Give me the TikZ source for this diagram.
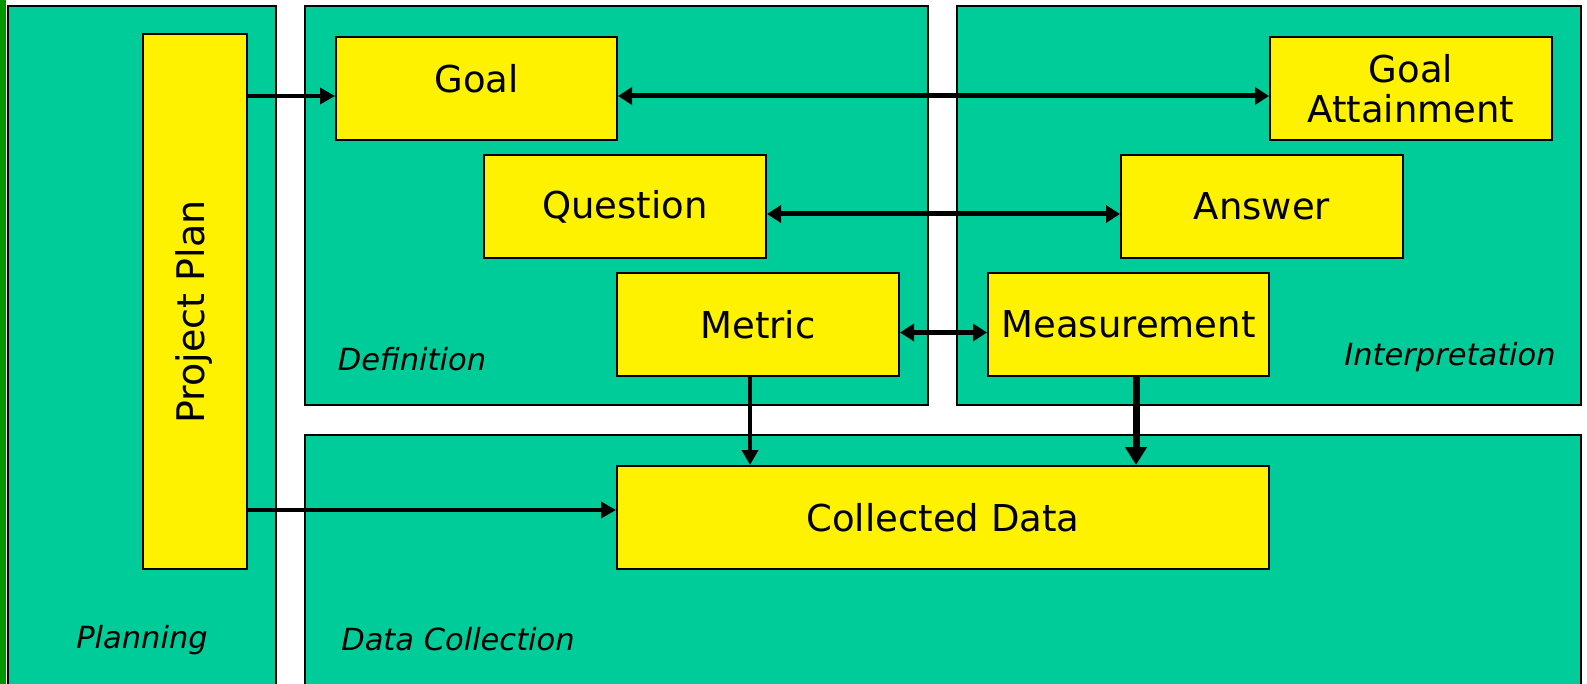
\documentclass[tikz,border=0pt]{standalone}
\usepackage{fontspec}
\setmainfont{DejaVu Sans}
\usetikzlibrary{arrows.meta}
\definecolor{panelgreen}{RGB}{0,204,153}
\definecolor{stripegreen}{RGB}{0,150,0}
\tikzset{
 panel/.style={draw,line width=2pt,fill=panelgreen},
 block/.style={draw,line width=2pt,fill=yellow,anchor=north west,inner sep=0pt,
  font=\fontsize{37}{40}\selectfont,align=center},
 phase/.style={font=\fontsize{30.5}{36}\selectfont\itshape},
 arr/.style={line width=3.5pt,-{Triangle[length=15pt,width=16pt]}},
 darr/.style={line width=5pt,{Triangle[length=14pt,width=17pt]}-{Triangle[length=14pt,width=17pt]}},
 barr/.style={line width=7pt,-{Triangle[length=18pt,width=21pt]}}
}
\begin{document}
\begin{tikzpicture}[x=1pt,y=-1pt]
\useasboundingbox (0,0) rectangle (1587,684);
\fill[white] (0,0) rectangle (1587,684);
\fill[stripegreen] (0,0) rectangle (5.5,684);

\draw[panel] (8,6) rectangle (276,690);
\draw[panel] (305,6) rectangle (928,405);
\draw[panel] (957,6) rectangle (1581,405);
\draw[panel] (305,435) rectangle (1581,690);

\node[phase] (planning) at (142,640) {Planning};
\node[phase] (definition) at (412,359) {Definition};
\node[phase] (interpretation) at (1450,357) {Interpretation};
\node[phase] (collection) at (458,639) {Data Collection};

\node[block,minimum width=104pt,minimum height=535pt] (plan) at (142,33) {};
\node[font=\fontsize{38}{40}\selectfont,rotate=90] (plantext) at (194,312) {Project Plan};
\node[block,minimum width=281pt,minimum height=103pt] (goal) at (335,36) {\raisebox{20pt}{Goal}};
\node[block,minimum width=282pt,minimum height=103pt] (goalatt) at (1269,36) {Goal\\Attainment};
\node[block,minimum width=282pt,minimum height=103pt] (question) at (483,154) {Question};
\node[block,minimum width=282pt,minimum height=103pt] (answer) at (1120,154) {Answer};
\node[block,minimum width=282pt,minimum height=103pt] (metric) at (616,272) {Metric};
\node[block,minimum width=281pt,minimum height=103pt] (measure) at (987,272) {Measurement};
\node[block,minimum width=652pt,minimum height=103pt] (data) at (616,465) {Collected Data};

\coordinate (g) at ([yshift=-7.5pt]goal.west);
\coordinate (d) at ([yshift=7.5pt]data.west);
\draw[arr] (plan.east |- g) -- (g);
\draw[arr] (plan.east |- d) -- (d);
\draw[darr] ([yshift=-7.5pt]goal.east) -- ([yshift=-7.5pt]goalatt.west);
\draw[darr] ([yshift=-7.5pt]question.east) -- ([yshift=-7.5pt]answer.west);
\draw[darr] ([yshift=-8pt]metric.east) -- ([yshift=-8pt]measure.west);
\draw[arr] ([xshift=-8pt]metric.south) -- ([xshift=-8pt]metric.south |- data.north);
\draw[barr] ([xshift=7.5pt]measure.south) -- ([xshift=7.5pt]measure.south |- data.north);
\end{tikzpicture}
\end{document}
